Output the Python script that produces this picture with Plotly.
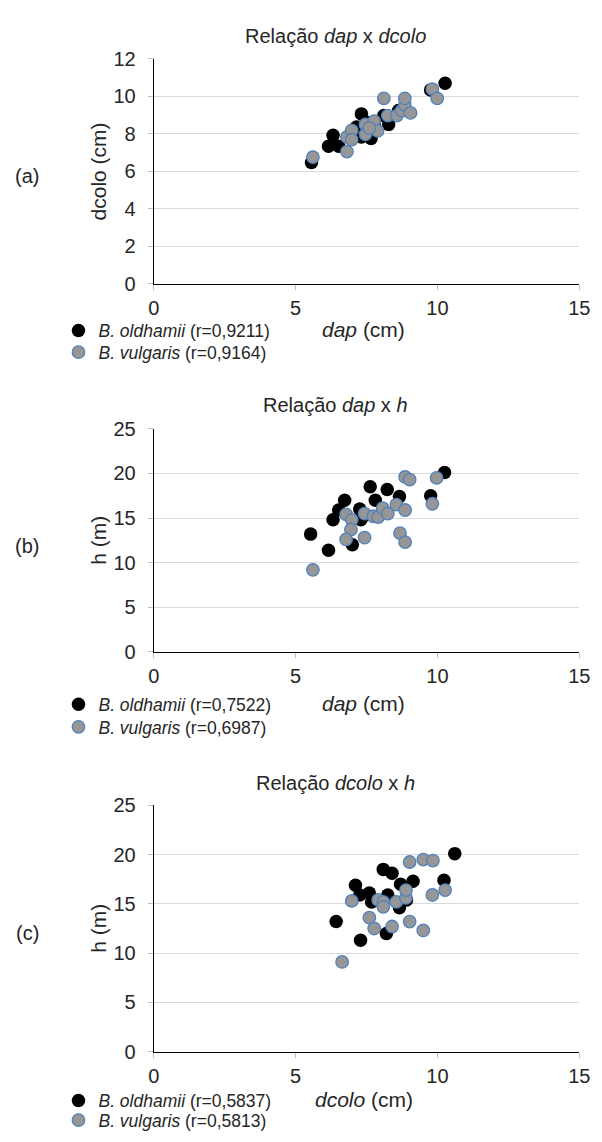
import plotly.graph_objects as go

W, H = 602, 1142

# ---------------- data ----------------
# (a) dap x dcolo
a_old_dap = [5.56, 6.16, 6.32, 6.52, 7.04, 7.32, 7.32, 7.66, 7.77, 8.11, 8.28, 8.63, 9.76, 10.27, 7.15, 7.50]
a_old_dcolo = [6.46, 7.33, 7.91, 7.33, 8.17, 9.05, 7.82, 7.74, 8.53, 8.96, 8.49, 9.23, 10.33, 10.68, 8.35, 8.60]
a_vul_dap = [5.61, 6.81, 6.81, 6.98, 6.98, 7.46, 7.46, 7.77, 7.89, 8.11, 8.25, 8.57, 8.74, 8.85, 8.85, 9.05, 9.82, 9.99, 7.60]
a_vul_dcolo = [6.74, 7.04, 7.82, 8.17, 7.68, 8.49, 7.96, 8.67, 8.14, 9.88, 8.96, 8.96, 9.23, 9.53, 9.88, 9.10, 10.37, 9.88, 8.30]

# (b) dap x h
b_old_dap = [5.53, 6.16, 6.32, 6.52, 6.73, 7.00, 7.26, 7.30, 7.63, 7.81, 8.23, 8.66, 9.76, 10.25, 7.38]
b_old_h = [13.2, 11.4, 14.8, 15.9, 17.0, 12.0, 16.0, 14.8, 18.5, 17.0, 18.2, 17.4, 17.5, 20.1, 15.2]
b_vul_dap = [5.61, 6.78, 6.98, 6.95, 6.78, 7.43, 7.43, 7.74, 7.91, 8.07, 8.25, 8.55, 8.86, 8.68, 8.86, 8.86, 9.02, 9.82, 9.97]
b_vul_h = [9.2, 15.4, 14.8, 13.7, 12.6, 12.8, 15.5, 15.2, 15.1, 16.1, 15.5, 16.5, 15.9, 13.3, 12.3, 19.6, 19.3, 16.6, 19.5]

# (c) dcolo x h
c_old_dcolo = [6.43, 7.29, 7.11, 7.26, 7.60, 7.68, 8.09, 8.40, 8.20, 8.25, 8.66, 8.70, 9.14, 8.91, 10.23, 10.61]
c_old_h = [13.2, 11.3, 16.9, 15.9, 16.1, 15.2, 18.5, 18.1, 12.0, 15.9, 14.6, 17.0, 17.3, 15.4, 17.4, 20.1]
c_vul_dcolo = [6.64, 6.98, 7.60, 7.77, 7.91, 8.09, 8.09, 8.40, 8.55, 8.89, 8.89, 9.02, 9.02, 9.50, 9.84, 9.50, 9.82, 10.27]
c_vul_h = [9.1, 15.3, 13.6, 12.5, 15.4, 15.2, 14.7, 12.7, 15.2, 15.6, 16.4, 19.25, 13.2, 19.5, 19.4, 12.3, 15.9, 16.4]

x_ticks = [0, 5, 10, 15]
a_y_ticks = [0, 2, 4, 6, 8, 10, 12]
h_ticks = [0, 5, 10, 15, 20, 25]

titles = ["Relação <i>dap</i> x <i>dcolo</i>", "Relação <i>dap</i> x <i>h</i>", "Relação <i>dcolo</i> x <i>h</i>"]
x_titles = ["<i>dap</i> (cm)", "<i>dap</i> (cm)", "<i>dcolo</i> (cm)"]
y_titles = ["dcolo (cm)", "h (m)", "h (m)"]
panel_labels = ["(a)", "(b)", "(c)"]
old_names = ["<i>B. oldhamii</i> (r=0,9211)", "<i>B. oldhamii</i> (r=0,7522)", "<i>B. oldhamii</i> (r=0,5837)"]
vul_names = ["<i>B. vulgaris</i> (r=0,9164)", "<i>B. vulgaris</i> (r=0,6987)", "<i>B. vulgaris</i> (r=0,5813)"]

# ---------------- layout helpers (pixel -> paper) ----------------
def px(x):
    return x / W

def py(y):
    return 1 - y / H

FONT = "Liberation Sans, Arial, sans-serif"
TXT = "#262626"

x_dom = [px(152), px(590)]
y_doms = [[py(278), py(48.5)], [py(653.5), py(426)], [py(1061), py(810)]]
y_ranges = [[0, 12], [0, 25], [0, 25]]
y_tickvals = [a_y_ticks, h_ticks, h_ticks]
title_y = [25, 402, 787]
xtitle_y = [325, 706, 1110]
panel_y = [168, 545, 940]
legend_rows = [(326, 348), (707, 730), (1111, 1131)]

datasets = [
    (a_old_dap, a_old_dcolo, a_vul_dap, a_vul_dcolo),
    (b_old_dap, b_old_h, b_vul_dap, b_vul_h),
    (c_old_dcolo, c_old_h, c_vul_dcolo, c_vul_h),
]

fig = go.Figure()

def lkey(n):
    return "legend" if n == 1 else f"legend{n}"

for i, (ox, oy, vx, vy) in enumerate(datasets):
    xa = "x" if i == 0 else f"x{i+1}"
    ya = "y" if i == 0 else f"y{i+1}"
    fig.add_trace(go.Scatter(
        x=ox, y=oy, mode="markers", name=old_names[i], showlegend=True,
        xaxis=xa, yaxis=ya, legend=lkey(2 * i + 1),
        marker=dict(size=13.5, color="#000000", line=dict(width=0)),
    ))
    fig.add_trace(go.Scatter(
        x=vx, y=vy, mode="markers", name=vul_names[i], showlegend=True,
        xaxis=xa, yaxis=ya, legend=lkey(2 * i + 2),
        marker=dict(size=12.5, color="#969696", line=dict(width=1.3, color="#4f81bd")),
    ))

layout = dict(
    width=W, height=H, autosize=False, showlegend=True,
    margin=dict(l=0, r=0, t=0, b=0),
    paper_bgcolor="white", plot_bgcolor="white",
    font=dict(family=FONT, color=TXT, size=20),
    annotations=[],
)

for i in range(3):
    xk = "xaxis" if i == 0 else f"xaxis{i+1}"
    yk = "yaxis" if i == 0 else f"yaxis{i+1}"
    ya = "y" if i == 0 else f"y{i+1}"
    xa = "x" if i == 0 else f"x{i+1}"
    layout[xk] = dict(
        domain=x_dom, anchor=ya, range=[0, 15], tickvals=x_ticks,
        showgrid=False, zeroline=False, showline=True, linecolor="#000000", linewidth=1,
        ticks="outside", ticklen=5, tickcolor="#bfbfbf", tickwidth=1,
        ticklabelstandoff=1, ticklabeloverflow="allow",
        tickfont=dict(size=20, color=TXT, family=FONT), fixedrange=True,
    )
    layout[yk] = dict(
        domain=y_doms[i], anchor=xa, range=y_ranges[i], tickvals=y_tickvals[i],
        showgrid=True, gridcolor="#d9d9d9", gridwidth=1.3, zeroline=False,
        showline=True, linecolor="#000000", linewidth=1,
        ticks="outside", ticklen=5, tickcolor="#bfbfbf", tickwidth=1,
        ticklabelstandoff=8,
        tickfont=dict(size=20, color=TXT, family=FONT), fixedrange=True,
    )
    for j in range(2):
        layout[lkey(2 * i + 1 + j)] = dict(
            x=px(54), xanchor="left", y=py(legend_rows[i][j]), yanchor="middle",
            bgcolor="rgba(0,0,0,0)", borderwidth=0,
            font=dict(size=17.5, color=TXT, family=FONT),
            itemsizing="trace", tracegroupgap=0, visible=True,
        )
    layout["annotations"] += [
        dict(text=titles[i], x=px(339), y=py(title_y[i]), xref="paper", yref="paper",
             showarrow=False, xanchor="center", yanchor="middle",
             font=dict(size=20, color=TXT, family=FONT)),
        dict(text=x_titles[i], x=px(368), y=py(xtitle_y[i]), xref="paper", yref="paper",
             showarrow=False, xanchor="center", yanchor="middle",
             font=dict(size=21, color=TXT, family=FONT)),
        dict(text=y_titles[i], x=px(95), y=(y_doms[i][0] + y_doms[i][1]) / 2,
             xref="paper", yref="paper", textangle=-90,
             showarrow=False, xanchor="center", yanchor="middle",
             font=dict(size=21, color=TXT, family=FONT)),
        dict(text=panel_labels[i], x=px(22), y=py(panel_y[i]), xref="paper", yref="paper",
             showarrow=False, xanchor="center", yanchor="middle",
             font=dict(size=20, color=TXT, family=FONT)),
    ]

fig.update_layout(**layout)
fig.write_html("out.html", config={"displayModeBar": False},
               post_script="document.body.style.margin='0px';")
